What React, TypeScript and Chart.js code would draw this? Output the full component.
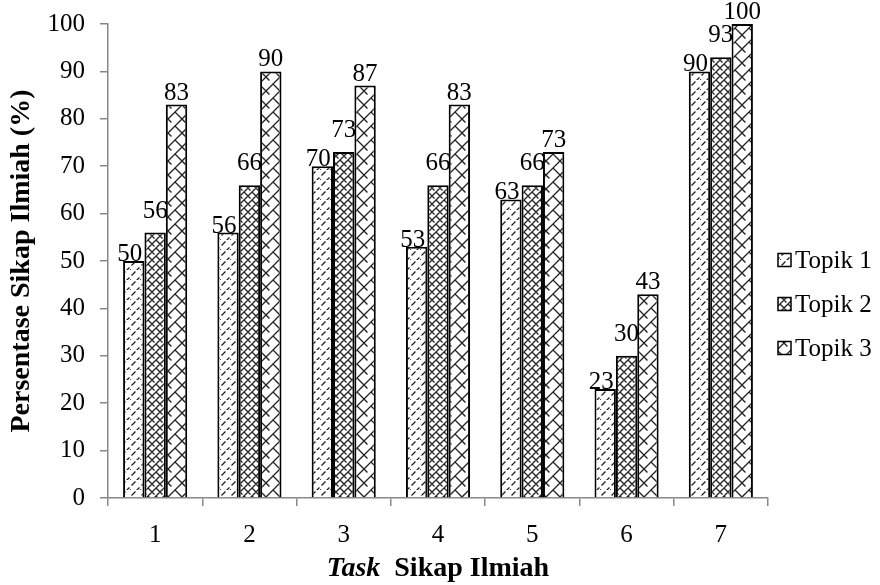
import React, { useEffect, useRef } from "react";
import { Chart, registerables } from "chart.js";

Chart.register(...registerables);

const categories = ["1", "2", "3", "4", "5", "6", "7"];
const seriesNames = ["Topik 1", "Topik 2", "Topik 3"];
const topik1 = [50, 56, 70, 53, 63, 23, 90];
const topik2 = [56, 66, 73, 66, 66, 30, 93];
const topik3 = [83, 90, 87, 83, 73, 43, 100];
const yTicks = [0, 10, 20, 30, 40, 50, 60, 70, 80, 90, 100];
const yTitle = "Persentase Sikap Ilmiah (%)";
const xTitleItalic = "Task";
const xTitleBold = "Sikap Ilmiah";

const FONT = "'Liberation Serif', 'Times New Roman', serif";
const TICK_SIZE = 25;
const TITLE_SIZE = 28;
// per-series label nudges (style): [dx, gap above bar top]
const LABEL_NUDGE = [
  [-4, 0],
  [0, 15],
  [0, 5],
];

function makePattern(kind: number): CanvasPattern | string {
  const c = document.createElement("canvas");
  const s = kind === 2 ? 14 : kind === 1 ? 8 : 10;
  c.width = s;
  c.height = s;
  const g = c.getContext("2d");
  if (!g) return "#fff";
  g.fillStyle = "#fff";
  g.fillRect(0, 0, s, s);
  g.strokeStyle = "#222";
  g.lineWidth = 1.3;
  g.lineCap = "square";
  if (kind === 0) {
    g.beginPath();
    g.moveTo(2, 5);
    g.lineTo(5, 2);
    g.moveTo(7, 10);
    g.lineTo(9, 8);
    g.stroke();
    g.fillStyle = "#444";
    g.fillRect(0, 9, 1, 1);
  } else if (kind === 1) {
    g.beginPath();
    g.moveTo(0, 4);
    g.lineTo(4, 0);
    g.moveTo(4, 8);
    g.lineTo(8, 4);
    g.moveTo(4, 0);
    g.lineTo(8, 4);
    g.moveTo(0, 4);
    g.lineTo(2, 6);
    g.stroke();
  } else {
    g.beginPath();
    g.moveTo(0, 7);
    g.lineTo(7, 0);
    g.moveTo(7, 14);
    g.lineTo(14, 7);
    g.moveTo(7, 0);
    g.lineTo(14, 7);
    g.moveTo(0, 7);
    g.lineTo(3, 10);
    g.stroke();
  }
  const p = g.createPattern(c, "repeat");
  return p || "#fff";
}

const valueLabels = {
  id: "valueLabels",
  afterDatasetsDraw(chart: any) {
    const ctx = chart.ctx;
    ctx.save();
    ctx.font = `${TICK_SIZE}px ${FONT}`;
    ctx.fillStyle = "#000";
    ctx.textAlign = "center";
    ctx.textBaseline = "alphabetic";
    chart.data.datasets.forEach((ds: any, i: number) => {
      const meta = chart.getDatasetMeta(i);
      const [dx, gap] = LABEL_NUDGE[i];
      meta.data.forEach((el: any, j: number) => {
        ctx.fillText(String(ds.data[j]), el.x + dx, el.y - gap);
      });
    });
    ctx.restore();
  },
};

const customLegend = {
  id: "customLegend",
  afterDraw(chart: any) {
    const ctx = chart.ctx;
    const area = chart.chartArea;
    ctx.save();
    ctx.font = `${TICK_SIZE}px ${FONT}`;
    ctx.textBaseline = "middle";
    ctx.textAlign = "left";
    const bx = area.right + 10;
    const rowGap = 44;
    const midY = chart.height / 2 + 12;
    chart.data.datasets.forEach((ds: any, i: number) => {
      const cy = midY + (i - 1) * rowGap;
      ctx.fillStyle = ds.backgroundColor;
      ctx.fillRect(bx, cy - 7, 13, 13);
      ctx.strokeStyle = "#000";
      ctx.lineWidth = 1.5;
      ctx.strokeRect(bx, cy - 7, 13, 13);
      ctx.fillStyle = "#000";
      ctx.fillText(ds.label, bx + 17, cy + 1);
    });
    ctx.restore();
  },
};

const xTitle = {
  id: "xTitle",
  afterDraw(chart: any) {
    const ctx = chart.ctx;
    const area = chart.chartArea;
    ctx.save();
    ctx.fillStyle = "#000";
    ctx.textBaseline = "middle";
    ctx.textAlign = "left";
    const part1 = xTitleItalic;
    const part2 = "  " + xTitleBold;
    ctx.font = `italic bold ${TITLE_SIZE}px ${FONT}`;
    const w1 = ctx.measureText(part1).width;
    ctx.font = `bold ${TITLE_SIZE}px ${FONT}`;
    const w2 = ctx.measureText(part2).width;
    const cx = (area.left + area.right) / 2;
    const x0 = cx - (w1 + w2) / 2;
    const y = 569;
    ctx.font = `italic bold ${TITLE_SIZE}px ${FONT}`;
    ctx.fillText(part1, x0, y);
    ctx.font = `bold ${TITLE_SIZE}px ${FONT}`;
    ctx.fillText(part2, x0 + w1, y);
    ctx.restore();
  },
};

export default function App() {
  const ref = useRef<HTMLCanvasElement | null>(null);
  useEffect(() => {
    document.body.style.margin = "0";
    const canvas = ref.current;
    if (!canvas) return;
    const datasets = [topik1, topik2, topik3].map((d, i) => ({
      label: seriesNames[i],
      data: d,
      backgroundColor: makePattern(i) as any,
      borderColor: "#000",
      borderWidth: 2,
      borderSkipped: "bottom" as const,
      categoryPercentage: 0.68,
      barPercentage: 1.0,
    }));
    const chart = new Chart(canvas, {
      type: "bar",
      data: { labels: categories, datasets },
      plugins: [valueLabels, xTitle, customLegend],
      options: {
        animation: false,
        responsive: false,
        maintainAspectRatio: false,
        layout: { padding: { top: 24, right: 112, bottom: 0, left: 0 } },
        plugins: {
          legend: { display: false },
          tooltip: { enabled: false },
        },
        scales: {
          x: {
            offset: true,
            afterFit(scale: any) {
              scale.height = 87;
              scale.paddingLeft = 0;
              scale.paddingRight = 0;
            },
            grid: {
              offset: true,
              drawOnChartArea: false,
              drawTicks: true,
              tickLength: 8,
              color: "#888",
              lineWidth: 1.5,
            },
            border: { color: "#888", width: 1.5 },
            ticks: { font: { family: FONT, size: TICK_SIZE }, color: "#000", padding: 14 },
          },
          y: {
            min: 0,
            max: 100,
            afterFit(scale: any) {
              scale.width = 108;
              scale.paddingTop = 0;
              scale.paddingBottom = 0;
            },
            afterBuildTicks(scale: any) {
              scale.ticks = yTicks.map((v) => ({ value: v }));
            },
            grid: {
              drawOnChartArea: false,
              drawTicks: true,
              tickLength: 8,
              color: "#888",
              lineWidth: 1.5,
            },
            border: { color: "#888", width: 1.5 },
            ticks: { font: { family: FONT, size: TICK_SIZE }, color: "#000", padding: 15 },
            title: {
              display: true,
              text: yTitle,
              font: { family: FONT, size: TITLE_SIZE, weight: "bold" },
              color: "#000",
              padding: { top: 5, bottom: 0 },
            },
          },
        },
      },
    });
    return () => chart.destroy();
  }, []);
  return <canvas ref={ref} width={880} height={585} style={{ display: "block" }} />;
}
